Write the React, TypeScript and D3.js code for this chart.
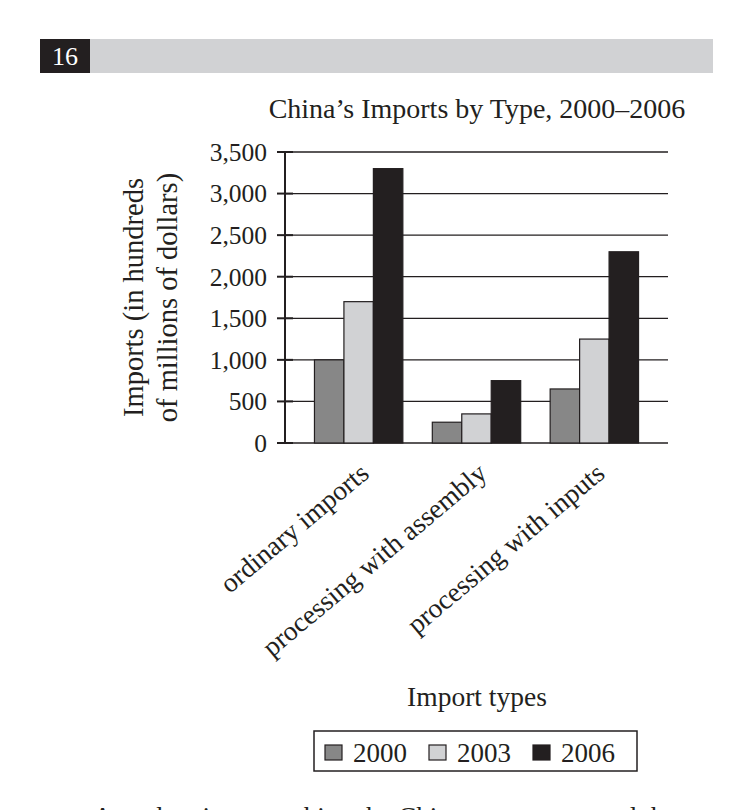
import { useEffect, useRef } from "react";
import * as d3 from "d3";

const importTypes = [
  "ordinary imports",
  "processing with assembly",
  "processing with inputs",
];
const years = ["2000", "2003", "2006"];
const imports2000 = [1000, 250, 650];
const imports2003 = [1700, 350, 1250];
const imports2006 = [3300, 750, 2300];
const yTicks = [0, 500, 1000, 1500, 2000, 2500, 3000, 3500];
const yearFills = ["#878787", "#d1d2d4", "#231f20"];

const ImportsChart = () => {
  const d3Container = useRef(null);

  const width = 752;
  const height = 810;
  const margin = { top: 152, right: 84, bottom: 367, left: 285 };
  const ink = "#231f20";
  const font = "'Liberation Serif', 'DejaVu Serif', serif";

  const series = [imports2000, imports2003, imports2006];

  const x = d3
    .scaleBand()
    .domain(importTypes)
    .range([margin.left, width - margin.right])
    .paddingInner(0.25)
    .paddingOuter(0.25);
  const x1 = d3.scaleBand().domain(years).range([0, x.bandwidth()]);
  const y = d3
    .scaleLinear()
    .domain([0, 3500])
    .range([height - margin.bottom, margin.top]);

  useEffect(() => {
    const svg = d3.select(d3Container.current);
    svg.selectAll("*").remove();
    svg.attr("width", width).attr("height", height);
    svg.append("rect").attr("width", width).attr("height", height).attr("fill", "#fff");

    // page header strip with question number
    svg
      .append("rect")
      .attr("x", 40)
      .attr("y", 39)
      .attr("width", 673)
      .attr("height", 34)
      .attr("fill", "#d1d2d4");
    svg
      .append("rect")
      .attr("x", 40)
      .attr("y", 39)
      .attr("width", 50)
      .attr("height", 34)
      .attr("fill", ink);
    svg
      .append("text")
      .attr("x", 65)
      .attr("y", 65)
      .attr("text-anchor", "middle")
      .attr("fill", "#fff")
      .attr("font-family", font)
      .attr("font-size", 26)
      .text("16");

    svg
      .append("text")
      .attr("x", 477)
      .attr("y", 118)
      .attr("text-anchor", "middle")
      .attr("fill", ink)
      .attr("font-family", font)
      .attr("font-size", 28)
      .text("China’s Imports by Type, 2000–2006");

    // gridlines
    svg
      .append("g")
      .selectAll("line")
      .data(yTicks)
      .join("line")
      .attr("x1", margin.left)
      .attr("x2", width - margin.right)
      .attr("y1", (d) => y(d))
      .attr("y2", (d) => y(d))
      .attr("stroke", ink)
      .attr("stroke-width", 1.3);

    // bars
    svg
      .append("g")
      .selectAll("g")
      .data(series)
      .join("g")
      .attr("fill", (d, i) => yearFills[i])
      .selectAll("rect")
      .data((d, i) => d.map((v, j) => ({ v, j, year: years[i] })))
      .join("rect")
      .attr("x", (d) => x(importTypes[d.j]) + x1(d.year))
      .attr("y", (d) => y(d.v))
      .attr("width", x1.bandwidth())
      .attr("height", (d) => y(0) - y(d.v))
      .attr("stroke", ink)
      .attr("stroke-width", 1.2);

    // y axis
    const axis = svg.append("g");
    axis
      .append("line")
      .attr("x1", margin.left)
      .attr("x2", margin.left)
      .attr("y1", y(3500) - 1)
      .attr("y2", y(0) + 1)
      .attr("stroke", ink)
      .attr("stroke-width", 2);
    axis
      .selectAll(".tick")
      .data(yTicks)
      .join("line")
      .attr("x1", margin.left - 8)
      .attr("x2", margin.left + 8)
      .attr("y1", (d) => y(d))
      .attr("y2", (d) => y(d))
      .attr("stroke", ink)
      .attr("stroke-width", 2);
    axis
      .selectAll("text")
      .data(yTicks)
      .join("text")
      .attr("x", margin.left - 18)
      .attr("y", (d) => y(d))
      .attr("dy", "0.35em")
      .attr("text-anchor", "end")
      .attr("fill", ink)
      .attr("font-family", font)
      .attr("font-size", 25.5)
      .text((d) => d3.format(",")(d));

    // y axis title, two lines
    const yTitle = svg
      .append("text")
      .attr("transform", `translate(143,${y(1750)}) rotate(-90)`)
      .attr("text-anchor", "middle")
      .attr("fill", ink)
      .attr("font-family", font)
      .attr("font-size", 28.5);
    yTitle.append("tspan").attr("x", 0).attr("y", 0).text("Imports (in hundreds");
    yTitle.append("tspan").attr("x", 0).attr("y", 34).text("of millions of dollars)");

    // category labels, slanted
    svg
      .append("g")
      .selectAll("text")
      .data(importTypes)
      .join("text")
      .attr(
        "transform",
        (d) => `translate(${x(d) + x.bandwidth() / 2 + 12},${y(0) + 33}) rotate(-40)`
      )
      .attr("text-anchor", "end")
      .attr("fill", ink)
      .attr("font-family", font)
      .attr("font-size", 27.5)
      .text((d) => d);

    svg
      .append("text")
      .attr("x", 477)
      .attr("y", 706)
      .attr("text-anchor", "middle")
      .attr("fill", ink)
      .attr("font-family", font)
      .attr("font-size", 27.5)
      .text("Import types");

    // legend
    const legend = svg.append("g");
    legend
      .append("rect")
      .attr("x", 314)
      .attr("y", 731)
      .attr("width", 323)
      .attr("height", 40)
      .attr("fill", "none")
      .attr("stroke", ink)
      .attr("stroke-width", 1.5);
    const item = legend
      .selectAll("g")
      .data(years)
      .join("g")
      .attr("transform", (d, i) => `translate(${325 + i * 104},745)`);
    item
      .append("rect")
      .attr("width", 17)
      .attr("height", 15)
      .attr("fill", (d, i) => yearFills[i])
      .attr("stroke", ink)
      .attr("stroke-width", 1.2);
    item
      .append("text")
      .attr("x", 28)
      .attr("y", 17)
      .attr("fill", ink)
      .attr("font-family", font)
      .attr("font-size", 27)
      .text((d) => d);

    // start of the question text below the figure
    svg
      .append("text")
      .attr("x", 93)
      .attr("y", 826)
      .attr("fill", ink)
      .attr("font-family", font)
      .attr("font-size", 27)
      .text("A student is researching the Chinese economy and the");
  }, []);

  return (
    <svg
      ref={d3Container}
      width={width}
      height={height}
      style={{ position: "absolute", left: 0, top: 0 }}
    ></svg>
  );
};

export default function App() {
  return <ImportsChart />;
}
